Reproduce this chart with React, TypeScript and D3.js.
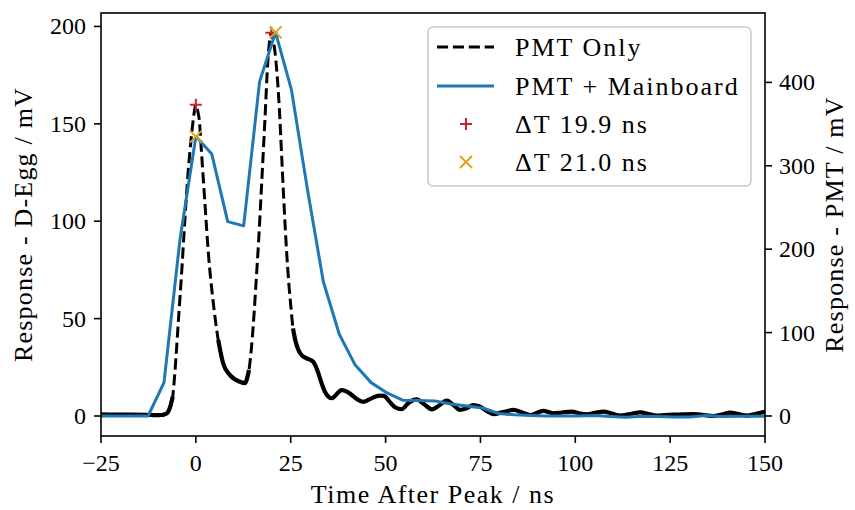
import React from "react";
import * as d3 from "d3";

// ---------- DATA ----------
// PMT Only (black dashed), left axis (mV)
const blackT = [-25, -21, -17, -13, -10.5, -9.0, -8.2, -7.5, -6.8, -6.1, -5.5, -4.6, -3.7, -2.9, -2.0, -1.1, -0.5, 0, 0.5, 0.9, 1.5, 2.4, 3.3, 4.6, 5.9, 7.2, 9.0, 11.6, 12.9, 14.0, 14.9, 15.8, 16.6, 17.3, 18.2, 19.0, 19.5, 19.9, 20.5, 21.3, 22.0, 22.6, 23.2, 23.9, 24.5, 25.0, 25.6, 26.2, 27.0, 28.0, 29.2, 30.4, 30.9, 31.6, 32.3, 33.2, 34.0, 35.0, 35.8, 37.0, 38.4, 39.8, 41.1, 42.6, 44.1, 45.7, 47.2, 48.5, 49.6, 51.0, 52.5, 54.2, 56.2, 58.2, 60.2, 62.2, 64.2, 66.1, 68.0, 69.6, 71.4, 73.1, 74.9, 76.7, 78.4, 81.0, 83.7, 86.0, 88.1, 91.6, 94.2, 96.5, 99.1, 101.0, 103.0, 105.2, 107.4, 109.6, 111.8, 114.5, 117.1, 119.3, 121.5, 123.6, 125.8, 128.5, 131.1, 133.8, 136.4, 138.6, 140.8, 143.0, 145.2, 147.4, 150.0];
const blackV = [0.8, 0.7, 0.7, 0.6, 0.4, 0.5, 0.9, 1.6, 4.5, 9.9, 23.0, 49.0, 75.0, 100.5, 126.0, 145.0, 155.0, 159.8, 156.5, 152.0, 135.0, 109.0, 83.5, 58.0, 39.0, 27.0, 21.0, 17.6, 16.8, 23.6, 40.7, 66.4, 92.0, 117.7, 152.0, 182.8, 193.5, 196.8, 192.0, 178.0, 158.0, 134.0, 110.0, 85.0, 68.0, 57.0, 45.0, 39.0, 34.0, 31.0, 29.6, 28.6, 27.9, 25.5, 21.9, 16.5, 12.5, 9.8, 9.1, 11.0, 13.3, 12.5, 10.8, 8.5, 7.3, 8.5, 9.9, 10.5, 10.3, 7.5, 4.5, 3.5, 7.0, 8.5, 6.0, 3.4, 5.5, 7.9, 5.5, 3.1, 4.0, 5.6, 4.8, 2.5, 1.0, 2.0, 3.1, 1.8, 0.5, 2.6, 1.4, 1.8, 2.2, 1.4, 0.9, 1.6, 2.2, 1.3, 0.2, 1.0, 1.9, 1.0, 0.2, 0.5, 0.7, 0.8, 1.0, 0.5, 0.0, 0.8, 1.7, 1.0, 0.2, 1.0, 2.2];

// PMT + Mainboard (blue), right axis (mV)
const blueT = [-25.2, -21.0, -16.8, -12.6, -8.4, -4.2, 0, 4.2, 8.4, 12.6, 16.8, 21.0, 25.2, 29.4, 33.6, 37.8, 42.0, 46.2, 50.4, 54.6, 58.8, 63.0, 67.2, 71.4, 75.6, 79.8, 84.0, 88.2, 92.4, 96.6, 100.8, 105.0, 109.2, 113.4, 117.6, 121.8, 126.0, 130.2, 134.4, 138.6, 142.8, 147.0, 151.2];
const blueV = [0, 0, 0, 0, 40, 211, 335, 314, 233, 228, 401, 460, 391, 272, 161, 98, 61, 40, 27.6, 18.8, 18.6, 18, 14.4, 12, 9.6, 3, 1.4, 0.6, 0, 0, 0, 0.6, -0.6, -1.6, -0.4, -0.6, -1.2, -1.2, 0.6, -0.6, -0.4, -0.4, -0.4];

// Peak markers
const plusT = [0, 19.9];
const plusV = [159.8, 196.8]; // left axis
const crossT = [0, 21.0];
const crossV = [335, 460]; // right axis

const xTicks = [-25, 0, 25, 50, 75, 100, 125, 150];
const leftTicks = [0, 50, 100, 150, 200];
const rightTicks = [0, 100, 200, 300, 400];

const legendLabels = ["PMT Only", "PMT + Mainboard", "\u0394T 19.9 ns", "\u0394T 21.0 ns"];

// ---------- LAYOUT ----------
const W = 855, H = 510;
const L = 101, R = 765, T = 13, B = 436;
const FONT = "'Liberation Serif', 'Times New Roman', serif";
const BLUE = "#1f77b4";
const RED = "#c1272d";
const GOLD = "#daa520";

const fmt = (v: number) => (v < 0 ? "\u2212" + Math.abs(v) : String(v));

export default function App() {
  const x = d3.scaleLinear().domain([-25, 150]).range([L, R]);
  const yL = d3.scaleLinear().domain([-10.27, 206.9]).range([B, T]);
  const yR = d3.scaleLinear().domain([-24.0, 483.2]).range([B, T]);

  const blackPts: [number, number][] = blackT.map((t, i) => [x(t), yL(blackV[i])]);
  const bluePts: [number, number][] = blueT.map((t, i) => [x(t), yR(blueV[i])]);

  const curve = d3.line<[number, number]>().x(d => d[0]).y(d => d[1]).curve(d3.curveMonotoneX);
  const lin = d3.line<[number, number]>().x(d => d[0]).y(d => d[1]);

  // Flat runs of the black trace (where the noisy trace reads as solid)
  const thr = 5.5;
  const flatSeg = blackPts.slice(0, -1).map((p, i) => {
    const q = blackPts[i + 1];
    return Math.abs((q[1] - p[1]) / (q[0] - p[0])) < thr;
  });
  const runs: [number, number][][] = [];
  let cur: [number, number][] = [];
  let segCount = 0;
  flatSeg.forEach((f, i) => {
    if (f) {
      if (cur.length === 0) cur.push(blackPts[i]);
      cur.push(blackPts[i + 1]);
      segCount++;
    } else {
      if (segCount >= 3) runs.push(cur);
      cur = [];
      segCount = 0;
    }
  });
  if (segCount >= 3) runs.push(cur);

  const plusPath = (s: number) => `M${-s},0H${s}M0,${-s}V${s}`;
  const crossPath = (s: number) => `M${-s},${-s}L${s},${s}M${-s},${s}L${s},${-s}`;

  const legY = [47, 86, 124, 162];

  return (
    <svg width={W} height={H} style={{ position: "absolute", left: 0, top: 0, background: "#fff" }} fontFamily={FONT}>
      <defs>
        <clipPath id="plotclip">
          <rect x={L} y={T} width={R - L} height={B - T} />
        </clipPath>
      </defs>
      <rect x={0} y={0} width={W} height={H} fill="#fff" />

      <g clipPath="url(#plotclip)">
        <path d={curve(blackPts) || ""} fill="none" stroke="#000" strokeWidth={3} strokeDasharray="11.1,4.8" />
        {runs.map((r, i) => (
          <path key={i} d={curve(r) || ""} fill="none" stroke="#000" strokeWidth={4.2} strokeLinejoin="round" />
        ))}
        {plusT.map((t, i) => (
          <path key={i} transform={`translate(${x(t)},${yL(plusV[i])})`} d={plusPath(6)} stroke={RED} strokeWidth={2} fill="none" />
        ))}
        <path d={lin(bluePts) || ""} fill="none" stroke={BLUE} strokeWidth={3} strokeLinejoin="round" />
        {crossT.map((t, i) => (
          <path key={i} transform={`translate(${x(t)},${yR(crossV[i])})`} d={crossPath(6)} stroke={GOLD} strokeWidth={2} fill="none" />
        ))}
      </g>

      {/* spines */}
      <rect x={L} y={T} width={R - L} height={B - T} fill="none" stroke="#000" strokeWidth={1.6} />

      {/* x ticks */}
      {xTicks.map(t => (
        <g key={t}>
          <line x1={x(t)} x2={x(t)} y1={B} y2={B + 7} stroke="#000" strokeWidth={1.6} />
          <text x={x(t)} y={471} textAnchor="middle" fontSize={24}>{fmt(t)}</text>
        </g>
      ))}
      {/* left ticks */}
      {leftTicks.map(v => (
        <g key={v}>
          <line x1={L - 7} x2={L} y1={yL(v)} y2={yL(v)} stroke="#000" strokeWidth={1.6} />
          <text x={L - 15} y={yL(v) + 8} textAnchor="end" fontSize={24}>{fmt(v)}</text>
        </g>
      ))}
      {/* right ticks */}
      {rightTicks.map(v => (
        <g key={v}>
          <line x1={R} x2={R + 7} y1={yR(v)} y2={yR(v)} stroke="#000" strokeWidth={1.6} />
          <text x={R + 14} y={yR(v) + 8} textAnchor="start" fontSize={24}>{fmt(v)}</text>
        </g>
      ))}

      {/* axis labels */}
      <text x={(L + R) / 2} y={503} textAnchor="middle" fontSize={26} letterSpacing={1.5}>Time After Peak / ns</text>
      <text transform={`translate(32,${(T + B) / 2}) rotate(-90)`} textAnchor="middle" fontSize={26} letterSpacing={1.2}>Response - D-Egg / mV</text>
      <text transform={`translate(843,${(T + B) / 2}) rotate(-90)`} textAnchor="middle" fontSize={26} letterSpacing={1.2}>Response - PMT / mV</text>

      {/* legend */}
      <rect x={428} y={27} width={323} height={159} rx={5} fill="#fff" fillOpacity={0.8} stroke="#cccccc" strokeWidth={1.6} />
      <line x1={437} x2={494} y1={legY[0]} y2={legY[0]} stroke="#000" strokeWidth={3} strokeDasharray="11.1,4.8" />
      <line x1={437} x2={494} y1={legY[1]} y2={legY[1]} stroke={BLUE} strokeWidth={3} />
      <path transform={`translate(466,${legY[2]})`} d={plusPath(6)} stroke={RED} strokeWidth={2} fill="none" />
      <path transform={`translate(466,${legY[3]})`} d={crossPath(6)} stroke={GOLD} strokeWidth={2} fill="none" />
      {legendLabels.map((lab, i) => (
        <text key={i} x={515} y={legY[i] + 8.5} fontSize={26} letterSpacing={2}>{lab}</text>
      ))}
    </svg>
  );
}
